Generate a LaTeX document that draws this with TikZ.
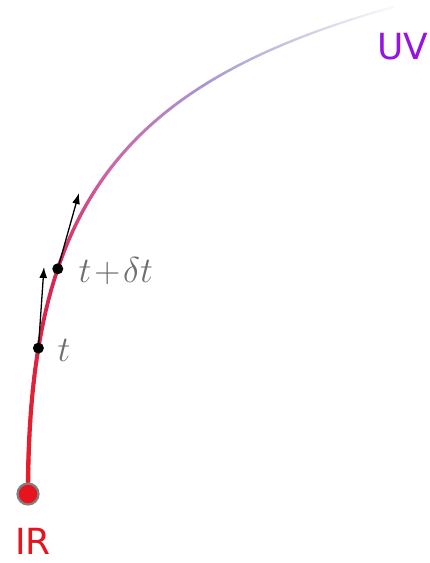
\RequirePackage{fix-cm}
\documentclass[tikz,border=0pt]{standalone}
\usepackage{fontspec}
\newfontfamily\labelfont{DejaVu Sans}
\usetikzlibrary{arrows.meta}
\definecolor{cA}{RGB}{232,28,36}
\definecolor{cB}{RGB}{214,40,86}
\definecolor{cC}{RGB}{205,100,165}
\definecolor{cD}{RGB}{168,150,208}
\definecolor{cE}{RGB}{205,205,228}
\definecolor{cF}{RGB}{250,250,253}
\definecolor{irred}{RGB}{230,20,30}
\definecolor{uvpurple}{RGB}{150,20,225}
\definecolor{labgray}{RGB}{110,110,110}
\tikzset{
  dot/.style={circle,fill=black,inner sep=0pt,minimum size=11pt},
  vec/.style={-{Latex[length=11pt,width=8pt]},line width=1.3pt,black},
  tlabel/.style={text=labgray,font=\fontsize{36}{42}\selectfont},
  endlabel/.style={inner sep=0pt,font=\labelfont\fontsize{36}{40}\selectfont},
}
\begin{document}
\begin{tikzpicture}[x=1pt,y=-1pt]
\useasboundingbox (0,0) rectangle (430,563);
\coordinate (p0) at (28,494);
\coordinate (p1) at (28,209);
\coordinate (p2) at (118,84);
\coordinate (p3) at (393,7);
\foreach \i in {0,...,100}{
  \pgfmathsetmacro\s{\i/100}
  \path (p0) .. controls (p1) and (p2) .. (p3) coordinate[pos=\s] (c\i);
}
\foreach \i in {0,...,99}{
  \pgfmathtruncatemacro\j{\i+1}
  \pgfmathsetmacro\w{4.4-2.4*\i/100}
  \ifnum\i<30
    \pgfmathtruncatemacro\p{100-\i*100/30}
    \colorlet{segc}{cA!\p!cB}
  \else\ifnum\i<50
    \pgfmathtruncatemacro\p{100-(\i-30)*100/20}
    \colorlet{segc}{cB!\p!cC}
  \else\ifnum\i<72
    \pgfmathtruncatemacro\p{100-(\i-50)*100/22}
    \colorlet{segc}{cC!\p!cD}
  \else\ifnum\i<88
    \pgfmathtruncatemacro\p{100-(\i-72)*100/16}
    \colorlet{segc}{cD!\p!cE}
  \else
    \pgfmathtruncatemacro\p{100-(\i-88)*100/12}
    \colorlet{segc}{cE!\p!cF}
  \fi\fi\fi\fi
  \draw[segc,line width=\w pt,line cap=round] (c\i) -- (c\j);
}
\path (p0) .. controls (p1) and (p2) .. (p3)
  coordinate[pos=0.19] (t1) coordinate[pos=0.315] (t2);
\coordinate (a1) at (44,267);
\coordinate (a2) at (79,193);
\draw[vec] (t1) -- (a1);
\draw[vec] (t2) -- (a2);
\node[dot] (d1) at (t1) {};
\node[dot] (d2) at (t2) {};
\node[circle,fill=irred,draw=gray,line width=2.2pt,minimum size=21pt,inner sep=0pt] (ir) at (p0) {};
\node[tlabel,anchor=west] (lt) at (54,350) {$t$};
\node[tlabel,anchor=west] (ltd) at (75,271) {$t\mskip-2.5mu+\mskip-2.5mu\delta t$};
\node[endlabel,text=irred] (irl) at (33,541) {IR};
\node[endlabel,text=uvpurple,anchor=west] (uvl) at (377,47) {UV};
\end{tikzpicture}
\end{document}
